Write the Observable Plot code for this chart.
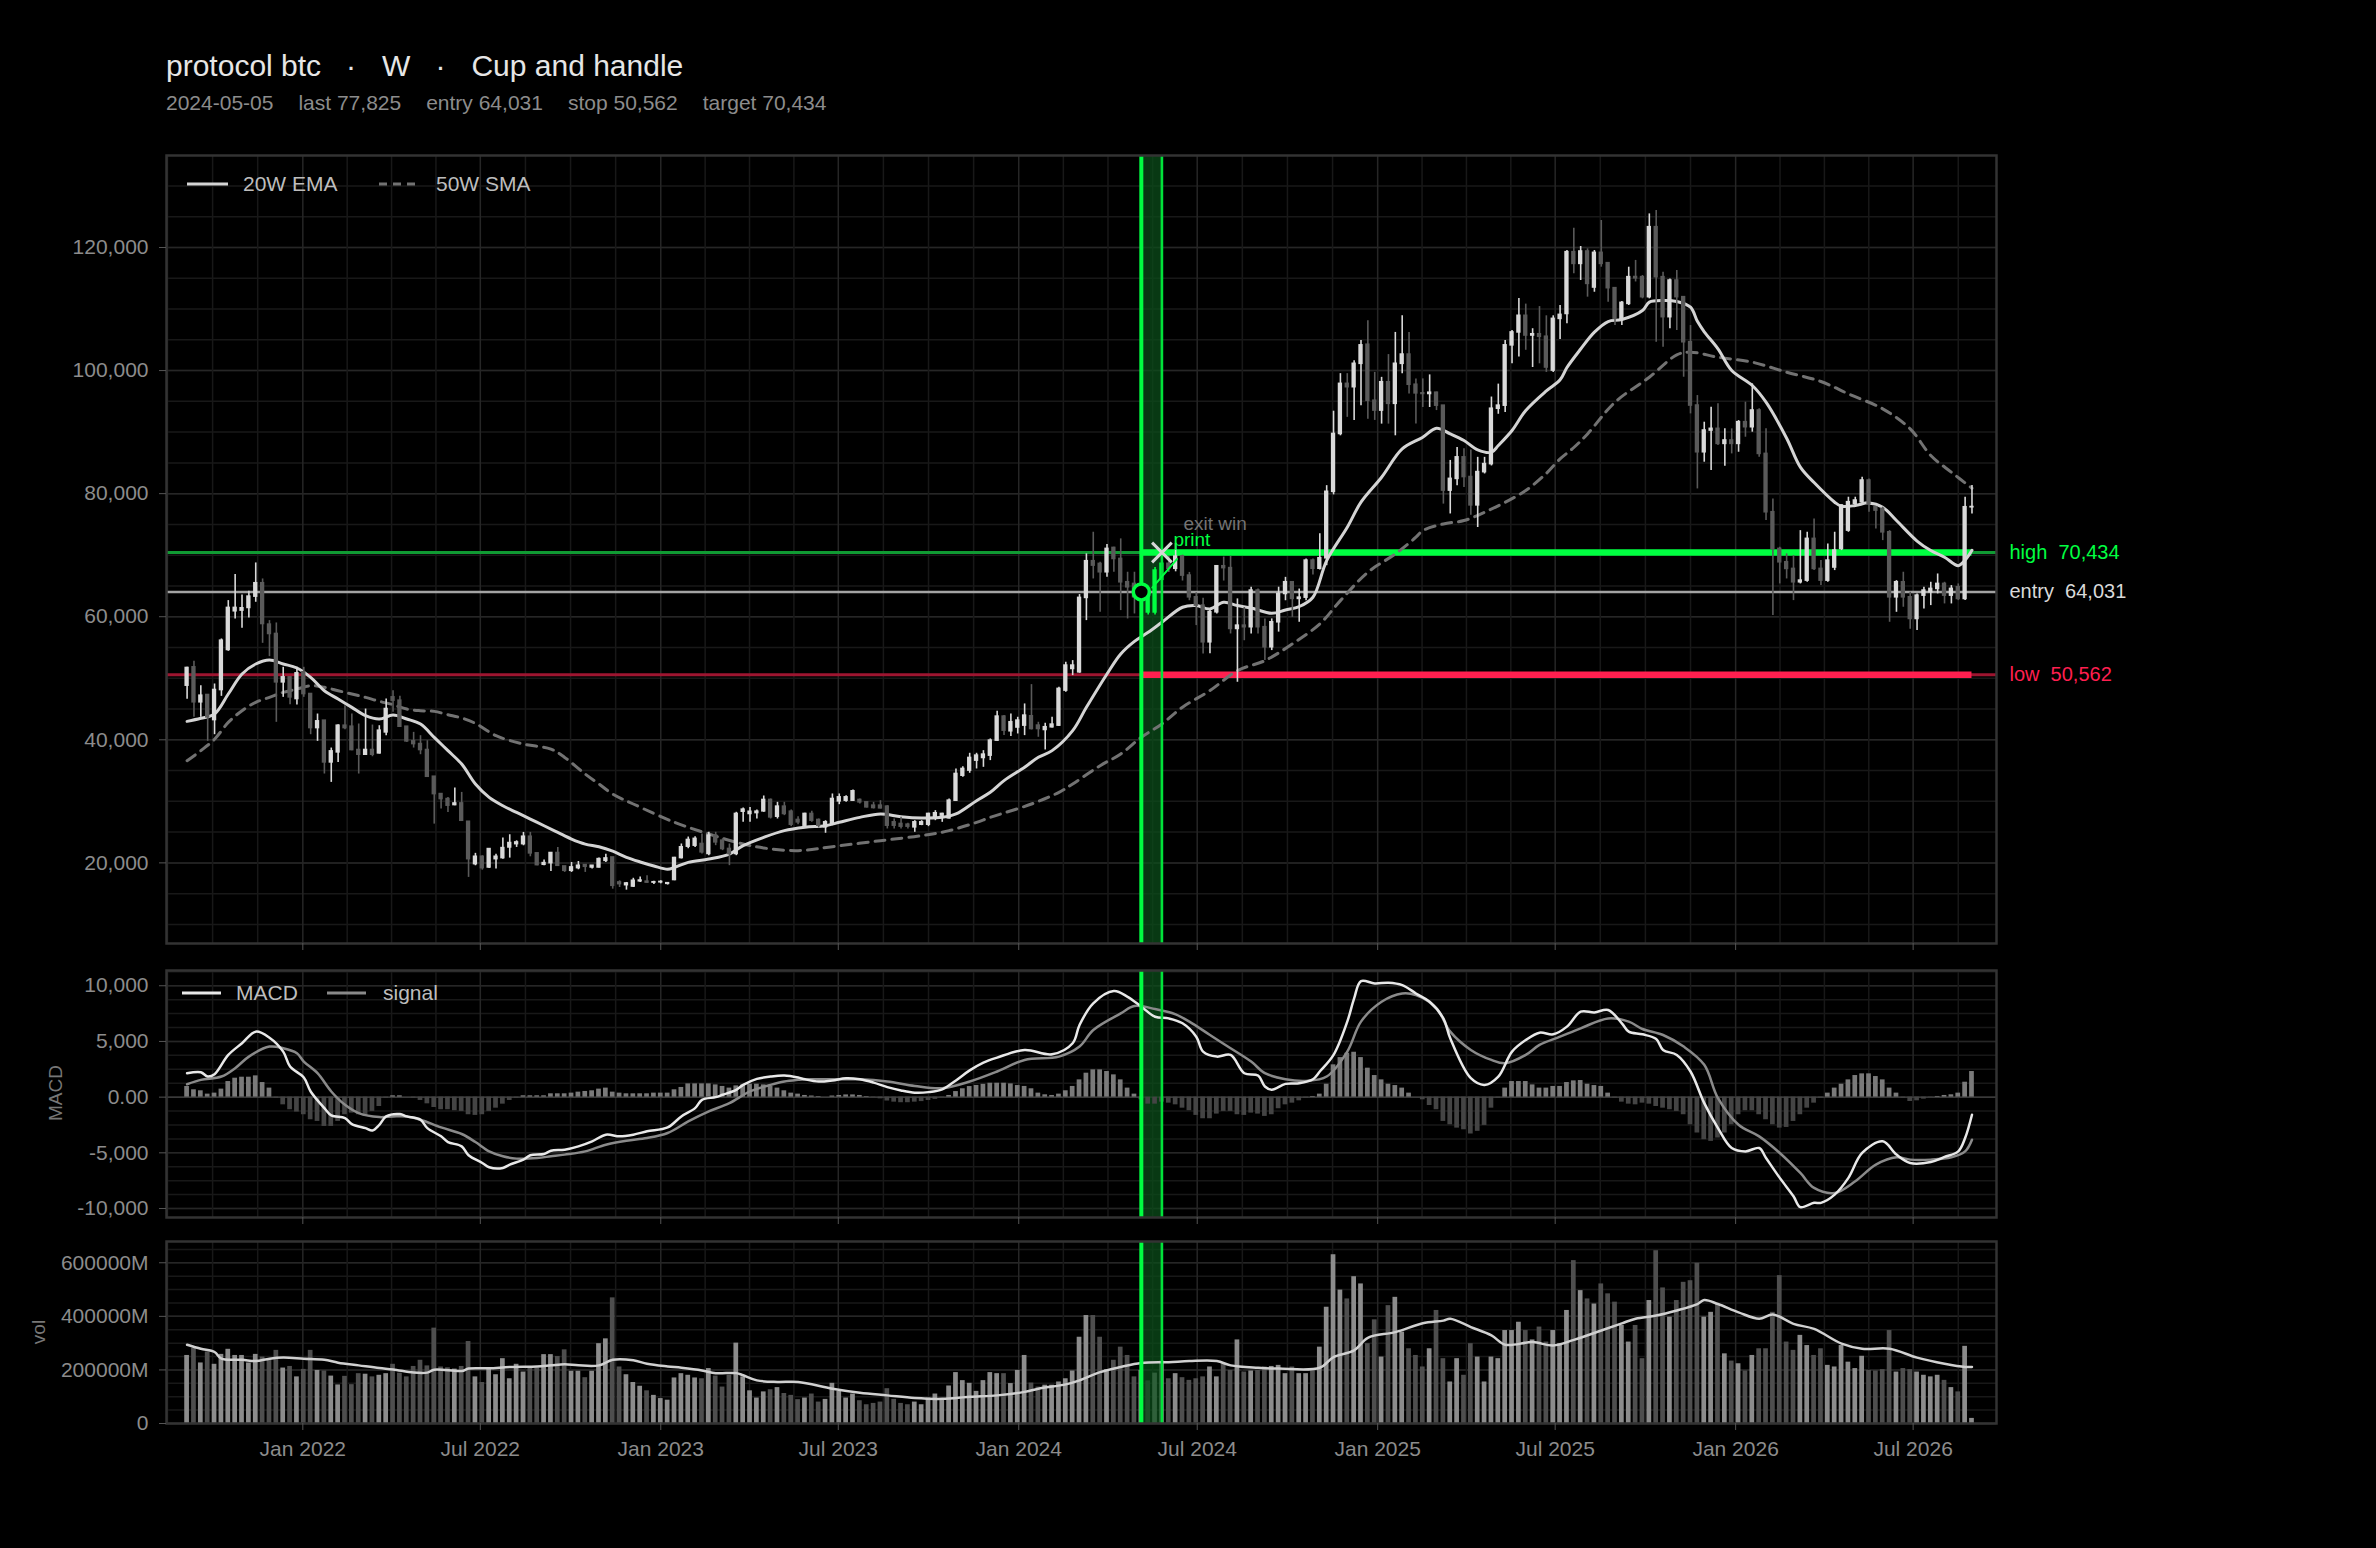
<!DOCTYPE html>
<html><head><meta charset="utf-8">
<script src="https://cdn.jsdelivr.net/npm/d3@7"></script>
<script src="https://cdn.jsdelivr.net/npm/@observablehq/plot@0.6"></script>
<style>
html,body{margin:0;padding:0;background:#000;}
body{width:2376px;height:1548px;position:relative;overflow:hidden;font-family:"Liberation Sans",Arial,Helvetica,sans-serif;}
.abs{position:absolute;}
#title{left:166px;top:48px;font-size:30px;color:#e6e6e6;white-space:pre;line-height:36px;}
#title .dot{margin:0 26px 0 25px;}
#sub{left:166px;top:91px;font-size:21px;color:#8c8c8c;white-space:pre;line-height:24px;}
#sub span{margin-right:25px;}
.leg{font-size:21px;color:#bdbdbd;line-height:24px;white-space:pre;}
.ytitle{font-size:19px;color:#777;transform:translate(-50%,-50%) rotate(-90deg);white-space:pre;}
</style></head><body>
<div id="title" class="abs">protocol btc<span class="dot">·</span>W<span class="dot">·</span>Cup and handle</div>
<div id="sub" class="abs"></div>
<div id="p1" class="abs" style="left:0;top:145px"></div>
<div id="p2" class="abs" style="left:0;top:960px"></div>
<div id="p3" class="abs" style="left:0;top:1231px"></div>
<svg class="abs" style="left:0;top:0" width="2376" height="1548" id="ov"></svg>
<div class="abs leg" style="left:243px;top:172px">20W EMA</div>
<div class="abs leg" style="left:436px;top:172px">50W SMA</div>
<div class="abs leg" style="left:236px;top:981px">MACD</div>
<div class="abs leg" style="left:383px;top:981px">signal</div>
<div class="abs ytitle" style="left:56px;top:1093px">MACD</div>
<div class="abs ytitle" style="left:39px;top:1332px">vol</div>
<script>
// ---------------- data ----------------
const firstWeek = "2021-09-05";           // week-ending date of first candle
const windowWeeks = ["2024-05-05", "2024-05-26"];
const entry = 64031, stop = 50562, target = 70434, last = 77825;
const subtitleParts = ["2024-05-05", "last 77,825", "entry 64,031", "stop 50,562", "target 70,434"];

const open = [
48800,51780,46100,47280,43210,48090,54600,60890,61000,61430,
63270,65440,58720,57200,49340,50150,46630,50970,47440,41910,
43110,36330,37960,42290,42130,38340,37580,38340,37800,41210,
46900,46360,42130,39750,39310,38340,34000,31180,30370,29400,
29660,26680,19800,20990,19260,20610,20780,22510,23050,23050,
24250,21550,19700,19960,21600,19420,18720,19150,19640,19260,
19260,20340,20880,16820,16380,16160,17010,16950,16800,16850,
16600,17220,20790,22640,22800,23070,21450,24430,23610,22260,
21450,28320,27950,28100,28380,30220,27510,29140,28320,26970,
26050,27950,26970,25800,26320,30000,30110,30110,30220,29840,
29300,29300,29140,26590,26320,26210,25780,26210,26210,27400,
27680,27240,30110,34170,35000,36620,37050,37430,39870,43770,
41390,42000,42310,43820,42310,41600,42040,42310,48000,51520,
50970,63060,69020,68580,67230,71180,69390,65600,65330,63170,
64031,60700,66000,68600,67800,69770,66690,63160,61810,55850,
60730,68200,67900,58020,58550,58300,64250,58300,55040,59100,
63700,65600,62900,63100,69120,67800,69500,80300,89700,97840,
97300,101100,104200,95100,93500,98100,94600,101100,102600,97700,
96300,96200,96400,94300,80500,82400,85900,82700,78100,83500,
84800,93800,94300,104100,106200,108900,105700,105900,105500,100000,
108400,109200,119240,117340,119350,113500,119130,117450,113390,108400,
110840,115200,115180,111930,123300,115180,108680,114630,111930,104610,
94320,86730,90260,90530,88090,88640,88090,91610,90800,93510,
86460,76980,71020,68850,67770,65600,65870,72650,67770,65870,
68000,71020,74000,78340,78610,82130,77800,77520,73720,63160,
65600,63160,59640,63430,63980,64520,65330,63430,64790,62890,
77790];
const high = [
51800,52750,48800,47300,49070,56390,62620,66850,63540,64140,
68740,66140,59370,58990,51780,50150,51780,51780,47440,44190,
43110,38660,42460,45550,44190,42570,45000,42400,42290,46630,
47980,47060,42130,41210,40670,39850,34000,31180,30640,32160,
31450,26680,21550,21150,22240,21420,24030,24570,23590,24950,
24950,21550,20450,21600,22510,19420,20070,20230,19640,19530,
20780,21420,20880,17090,16820,17500,17700,17900,17000,17100,
16800,20900,23070,24200,24250,24700,24970,24970,23880,23070,
28220,28920,29000,28600,30870,30380,29840,29840,28600,27510,
28060,28380,27130,26860,31200,31200,30920,31850,30380,29950,
29840,30110,29300,27130,27400,26430,26860,26860,28060,28490,
28060,30380,35260,35640,37810,37810,38240,40140,44630,43930,
44200,43660,45830,48970,42850,42690,43660,48540,52600,52870,
63600,70210,73730,68850,71720,71290,72650,67230,67230,64700,
64400,68000,71800,69800,71900,70000,67200,63900,63000,61000,
68300,69700,69800,62900,61500,64800,64500,59650,59650,64800,
66400,65600,64500,69400,69400,73500,81300,93400,99500,99500,
101600,104900,108100,99700,98900,102600,106200,108900,106200,98650,
98650,99300,96500,94300,85400,87500,87300,87100,85900,85900,
95700,97800,104900,106500,111700,110800,106800,110400,108900,108900,
110570,119510,123140,120160,119780,119510,124390,117450,113390,111220,
116800,117900,115450,125460,126020,115990,114900,116260,111930,107320,
95940,91610,94050,94590,90530,90530,91880,94860,97840,93780,
90530,79150,71290,70210,69940,73990,73730,75900,69120,71830,
73730,78170,79420,79420,82670,82400,77800,77800,73990,65870,
67230,63980,63710,64790,65600,66950,65600,65060,65330,79420,
81310];
const low = [
46600,43650,43650,39750,40830,47060,54380,59640,58120,59800,
62350,55680,53510,42840,46900,45700,45650,46900,40830,39750,
34440,33080,36330,41640,38230,34440,37580,37250,37690,40670,
44460,42020,39590,38660,37580,33890,26300,28740,28200,29300,
26850,17640,19530,18820,19100,19000,20610,20780,22510,22780,
20990,19530,19530,18610,19420,18450,18450,18880,18450,19000,
19150,20070,15730,16000,15570,16000,16800,16700,16500,16600,
16400,17100,20640,22300,22500,21450,21170,22800,21990,19550,
21170,26590,26600,27130,28220,27130,27130,27680,25890,26210,
25780,26590,25670,24810,26050,29460,29840,30000,29570,28920,
28760,28760,25510,25510,25510,25510,24970,26050,25890,26860,
26590,27130,30000,33910,34560,35260,35530,36620,39760,40680,
40520,40950,40680,41600,40410,38350,41920,42150,47720,50430,
50810,59370,66140,60730,66410,67230,61000,59640,60450,60400,
60300,60300,65500,67200,67300,65800,62600,58560,53950,54000,
60450,65800,57200,49350,56100,57200,57200,52870,54500,57500,
62600,59900,59100,62600,66800,67600,68300,79800,89400,92400,
91900,94300,92100,91900,91300,91300,89400,99500,96200,91300,
94000,94000,93500,78300,76700,81300,81000,76500,74500,83200,
84500,92900,93200,101100,102200,103300,100500,101100,99700,99700,
105050,107600,115720,114640,111930,112730,116800,111120,107320,107320,
110570,114400,111660,111660,104610,103800,106780,106510,98920,92960,
80770,85110,83750,87820,84450,86460,86730,89170,89990,85920,
75630,60180,65330,66140,62620,65330,65600,67500,65060,65600,
67500,70750,73720,77800,78340,76980,74270,72370,59100,60720,
61540,57980,57750,61270,61810,63710,62080,62080,62620,62620,
76710];
const close = [
51670,46100,47170,43650,48090,56110,61430,61430,61370,63270,
65440,58820,57200,49340,50150,46900,50800,47440,41910,43000,
36330,38120,42290,41910,38340,37580,38340,37580,41480,45000,
46360,42130,39750,39310,38340,34000,31180,30370,29300,29650,
26850,20610,20990,19150,22240,20990,22400,23220,23320,24250,
21550,19640,19960,21600,19530,18720,19260,19530,19370,19530,
20610,20720,16280,16550,16650,17090,17130,16800,16850,16900,
16700,20790,22530,23720,23900,21720,24430,23340,22260,21450,
27950,28650,28300,28320,30220,27400,29140,27950,26210,26590,
27950,26860,26050,26590,30380,30650,30650,31630,29840,29030,
28920,28870,26050,26050,25890,25890,26590,26590,27950,28060,
27950,30110,34450,35260,37050,37430,37590,39870,43770,41490,
42850,43120,43930,41760,41760,42040,42470,48270,52060,52060,
63060,69020,68310,67230,71020,69390,65600,64790,63170,64031,
60700,67500,68600,67800,69770,66690,63160,61810,55850,60730,
68200,67900,58020,58550,58300,64250,58300,55040,59100,63700,
65600,62900,63100,69120,67800,69500,80300,89700,97840,97300,
101100,104100,95100,93500,98100,94600,101100,102600,97700,96300,
96200,96400,94300,80500,82400,85900,82700,78100,83500,84800,
93800,94300,104100,106200,108900,105700,105900,105500,100500,108400,
109050,119240,117340,119350,114090,119130,117340,113390,108400,111000,
115180,115000,111930,123300,115180,108680,114630,111930,104610,94320,
86730,90260,90530,88090,88640,88090,91610,90800,93510,86460,
76980,71020,68850,67770,65600,65870,72650,67770,65870,69120,
70750,78070,78610,78880,82130,78340,77250,73720,63160,65600,
63160,59640,63430,64250,64520,65330,63430,64520,62890,77790,
77825];
// weekly volume, in millions
const volM = [
254000,281000,226000,267000,221000,258000,277000,254000,254000,226000,
258000,248000,242000,273000,207000,213000,174000,202000,273000,198000,
196000,177000,144000,176000,145000,186000,184000,174000,180000,186000,
221000,188000,174000,213000,236000,215000,356000,211000,208000,203000,
213000,306000,174000,153000,205000,182000,242000,167000,221000,192000,
211000,207000,257000,257000,250000,275000,195000,195000,171000,195000,
298000,316000,469000,211000,182000,153000,139000,122000,105000,93000,
87000,170000,186000,180000,170000,167000,205000,177000,136000,180000,
300000,174000,122000,95000,118000,126000,134000,112000,105000,89000,
95000,110000,80000,90000,150000,120000,95000,110000,85000,70000,
75000,80000,130000,90000,75000,70000,80000,70000,95000,110000,
90000,140000,190000,160000,150000,120000,160000,190000,186000,186000,
149000,198000,254000,151000,136000,143000,143000,155000,167000,196000,
322000,403000,403000,322000,201000,236000,285000,254000,174000,198000,
159000,188000,233000,167000,186000,171000,161000,167000,174000,211000,
174000,223000,198000,312000,192000,196000,198000,211000,213000,217000,
186000,211000,186000,186000,201000,285000,434000,630000,498000,465000,
548000,521000,298000,387000,248000,440000,471000,341000,279000,254000,
211000,279000,422000,242000,155000,242000,180000,298000,248000,155000,
248000,242000,347000,347000,378000,347000,312000,360000,304000,347000,
298000,422000,608000,496000,465000,446000,521000,484000,453000,366000,
304000,366000,242000,459000,645000,506000,397000,459000,527000,533000,
598000,397000,415000,446000,260000,233000,223000,196000,254000,279000,
279000,415000,552000,304000,273000,329000,291000,254000,279000,217000,
211000,291000,229000,205000,251000,198000,196000,201000,347000,192000,
205000,201000,192000,180000,174000,180000,161000,134000,118000,288000,
19000];
const macdHist = [
955,660,570,270,360,720,1400,1700,1790,1790,1910,1310,810,
-90,-690,-1130,-1340,-1580,-2030,-2180,-2630,-2630,-2180,-1580,-1430,-1580,-1730,-1280,-840,-90,
120,120,0,
-90,-300,-600,-930,-1130,-1130,-1220,-1280,-1580,-1640,-1580,-1280,-990,-630,-300,-90,
120,120,120,120,300,300,300,360,450,510,570,720,810,450,360,300,300,300,300,360,360,360,660,870,
1190,1190,1190,1190,1100,960,810,1010,1100,1160,1160,1100,960,810,570,360,270,
150,100,50,0,100,150,200,200,150,50,-50,-150,-350,-450,-500,-500,-450,-400,-300,-200,-50,150,500,750,950,1050,1150,1250,1250,
1250,1190,1040,960,750,360,210,150,270,570,
960,1550,2150,2450,2450,2300,2000,1550,810,270,
-240,-630,-630,-450,-540,-690,-990,-1220,-1640,-1940,
-1940,-1520,-1280,-1280,-1580,-1640,-1430,-1520,-1730,-1580,
-1040,-690,-540,-330,-90,60,270,1160,2900,3550,
3940,4030,3550,2600,1940,1550,1160,1040,810,360,
0,-240,-750,-1130,-2180,-2480,-2780,-2930,-3310,-3070,
-2540,-990,-90,810,1400,1400,1400,1100,810,810,
960,960,1310,1460,1490,1160,1040,960,360,-90,
-450,-630,-690,-540,-630,-840,-990,-1130,-1280,-1580,
-2480,-3220,-3820,-3970,-3670,-3220,-2480,-1580,-1220,-1220,
-1580,-2030,-2480,-2780,-2720,-2180,-1580,-990,-540,-90,
360,810,1160,1550,1940,2090,2090,1850,1550,810,
360,-90,-390,-330,-180,-30,60,150,210,360,
1340,2300];
// line series: [week index, value]
const ema20 = [[0,43000],[2,43500],[4,44200],[6,47440],[8,50700],[10,52320],[12,52970],[14,52320],[16,51670],[18,50150],[20,47980],[22,46630],[24,45270],[26,43920],[28,43380],[30,44030],[32,43380],[34,42560],[36,40400],[38,38230],[40,36060],[42,32810],[44,30640],[46,29280],[48,28200],[50,27120],[52,26030],[54,24950],[56,23870],[58,23050],[60,22620],[62,21900],[64,20900],[66,20150],[68,19500],[70,18970],[71,19270],[73,20090],[76,20630],[79,21440],[81,22800],[84,24150],[87,25240],[90,25780],[93,26050],[95,26590],[98,27400],[101,27950],[104,27510],[107,27300],[110,27400],[112,27950],[115,30110],[117,31470],[119,33370],[122,35540],[124,37160],[126,38240],[129,41490],[131,45280],[134,50700],[136,53950],[138,56000],[140,57470],[142,59100],[145,61540],[147,61810],[149,61270],[151,62350],[153,61810],[155,61430],[158,60560],[160,61100],[162,61650],[164,63170],[166,69120],[169,74540],[171,78610],[174,82670],[177,87270],[180,89170],[182,90630],[184,89710],[186,88630],[188,87110],[190,86730],[191,87820],[193,90260],[195,93510],[198,96700],[200,98500],[201,100500],[203,103500],[205,106240],[207,107970],[209,108300],[212,109760],[213,111120],[215,111390],[217,111230],[219,110300],[220,108000],[221,106300],[223,103530],[225,100010],[228,97570],[230,94860],[233,89000],[235,84300],[237,81800],[240,78610],[241,77950],[243,78070],[245,78500],[247,77800],[249,75630],[252,72300],[254,70750],[256,69670],[258,68300],[259,69200],[260,70800]];
const sma50 = [[0,36600],[2,38230],[4,40100],[6,42830],[8,44730],[10,46090],[12,46900],[14,47710],[16,48250],[18,48800],[20,48530],[22,47980],[24,47440],[26,46900],[28,46250],[30,45710],[32,45000],[34,44730],[36,44620],[38,44080],[40,43540],[42,42670],[45,40670],[49,39310],[53,38500],[55,37140],[58,34430],[60,32820],[62,31180],[65,29570],[71,26590],[76,24700],[80,23340],[84,22420],[89,21990],[94,22640],[101,23610],[107,24430],[111,25240],[115,26590],[117,27400],[123,29570],[127,31470],[129,32820],[133,35800],[136,37700],[139,40410],[142,42580],[145,45300],[149,48000],[153,51240],[157,52870],[161,55580],[165,58830],[168,62620],[172,67230],[176,70210],[179,72920],[180,74000],[183,75080],[186,75630],[189,76980],[192,78610],[195,80500],[198,83300],[200,85650],[202,87500],[204,89710],[208,94860],[213,98920],[217,102550],[219,102990],[223,102170],[228,101360],[233,99740],[238,98220],[242,96210],[247,93780],[251,90530],[254,86200],[257,83480],[260,80880]];
const macdLine = [[0,2150],[2,2240],[3,1850],[4,2060],[6,3790],[8,4840],[10,5880],[12,5340],[14,4090],[15,2750],[17,1760],[18,510],[20,-990],[21,-1640],[23,-1880],[24,-2420],[26,-2780],[27,-2990],[28,-2480],[29,-1730],[31,-1520],[32,-1730],[34,-2030],[35,-2780],[37,-3520],[38,-4030],[40,-4420],[41,-5220],[43,-5910],[44,-6300],[46,-6360],[47,-6060],[49,-5610],[50,-5220],[52,-5100],[53,-4810],[55,-4720],[57,-4420],[59,-3970],[61,-3370],[63,-3520],[65,-3370],[67,-3070],[70,-2720],[72,-1730],[74,-990],[75,-240],[77,0],[78,210],[80,660],[81,1100],[83,1640],[85,1850],[87,1940],[89,1760],[90,1600],[92,1400],[94,1500],[96,1700],[98,1600],[100,1300],[102,900],[104,600],[106,400],[108,450],[110,700],[112,1500],[114,2400],[116,3100],[118,3550],[122,4240],[126,3850],[129,4840],[130,6480],[132,8420],[135,9520],[137,9010],[139,8120],[141,7220],[143,7070],[145,6630],[147,5430],[148,4090],[150,3640],[152,3790],[154,2150],[156,1940],[157,960],[158,660],[160,1190],[162,1250],[164,1610],[165,2300],[167,3790],[169,6780],[170,8870],[171,10420],[173,10210],[175,10270],[177,10060],[179,9310],[181,8570],[183,7070],[184,5280],[187,1700],[189,1100],[191,1850],[193,4090],[195,5130],[197,5790],[199,5640],[201,6330],[203,7670],[205,7610],[207,7820],[209,6630],[210,5880],[212,5640],[214,5220],[215,4240],[217,3790],[219,2300],[221,-540],[223,-2780],[225,-4570],[227,-4870],[229,-4570],[230,-5460],[232,-7250],[234,-8900],[235,-9880],[237,-9490],[238,-9490],[240,-8750],[242,-7250],[244,-5010],[247,-3970],[249,-5160],[251,-5910],[254,-5820],[256,-5370],[258,-4870],[259,-3670],[260,-1580]];
const signalLine = [[0,1160],[2,1550],[5,1850],[7,2600],[9,3640],[12,4540],[14,4390],[16,3940],[17,3190],[19,2150],[21,510],[23,-690],[25,-1430],[28,-1790],[30,-1730],[32,-1730],[34,-2030],[37,-2720],[40,-3310],[42,-4030],[44,-4870],[46,-5310],[48,-5520],[51,-5460],[53,-5310],[55,-5160],[58,-4870],[61,-4270],[64,-3910],[67,-3670],[70,-3220],[73,-2180],[76,-1280],[79,-540],[82,510],[85,1100],[87,1400],[89,1550],[90,1600],[94,1600],[98,1600],[102,1400],[106,1000],[110,800],[114,1400],[118,2300],[122,3340],[127,3640],[130,4540],[132,6030],[136,7520],[138,8180],[141,7910],[144,7430],[146,6780],[149,5580],[152,4390],[155,3190],[157,2150],[160,1610],[163,1460],[166,1850],[169,4090],[171,6780],[174,8570],[177,9310],[179,9160],[182,7970],[184,5880],[187,4240],[190,3340],[192,3040],[195,3790],[197,4690],[200,5430],[203,6180],[207,7070],[210,6780],[212,6120],[215,5580],[218,4540],[221,2900],[223,-90],[226,-2480],[229,-3520],[232,-5010],[235,-6810],[237,-8150],[240,-8600],[243,-7550],[246,-6060],[249,-5400],[251,-5610],[254,-5610],[257,-5400],[259,-4870],[260,-3820]];
const volAvg = [[0,294000],[2,279000],[4,267000],[5,242000],[8,238000],[10,233000],[12,242000],[14,246000],[17,242000],[20,238000],[22,227000],[25,217000],[28,207000],[30,202000],[33,190000],[35,190000],[36,201000],[40,196000],[41,205000],[44,206000],[47,211000],[51,213000],[53,217000],[55,221000],[57,217000],[60,217000],[62,238000],[65,236000],[67,223000],[70,213000],[72,208000],[75,198000],[77,188000],[80,188000],[81,180000],[83,161000],[86,155000],[89,155000],[94,130000],[98,115000],[102,105000],[106,95000],[110,92000],[114,100000],[118,105000],[122,118000],[124,130000],[128,146000],[130,161000],[133,192000],[136,211000],[139,226000],[143,229000],[146,233000],[150,233000],[152,217000],[156,208000],[159,205000],[165,208000],[167,248000],[170,273000],[172,320000],[176,341000],[180,374000],[183,384000],[184,391000],[187,360000],[190,329000],[192,294000],[196,304000],[199,291000],[202,312000],[206,347000],[209,374000],[211,391000],[214,403000],[217,422000],[220,446000],[221,461000],[223,446000],[226,415000],[229,391000],[231,407000],[234,372000],[237,353000],[241,298000],[244,279000],[248,279000],[252,246000],[256,223000],[259,211000],[260,211000]];
// leader line of the "print" callout: [week index, price]
const callout = [[140.6, 64736], [144.2, 69370]];
const priceTicks = [20000, 40000, 60000, 80000, 100000, 120000];
const macdTicks = [-10000, -5000, 0, 5000, 10000];
const volTicks = [0, 200000, 400000, 600000];
const xTickLabels = ["2022-01-01","2022-07-01","2023-01-01","2023-07-01","2024-01-01","2024-07-01","2025-01-01","2025-07-01","2026-01-01","2026-07-01"];

// ---------------- helpers ----------------
const DAY = 864e5;
const t0 = Date.parse(firstWeek + "T00:00:00Z");
const wk = k => new Date(t0 + k * 7 * DAY);
const N = close.length;
const wS = Math.round((Date.parse(windowWeeks[0] + "T00:00:00Z") - t0) / (7 * DAY));
const wE = Math.round((Date.parse(windowWeeks[1] + "T00:00:00Z") - t0) / (7 * DAY));
const GREEN = "#00ff41", RED = "#ff1f4f";
const UPC = "#d9d9d9", DNC = "#5a5a5a";
const MINOR = "#181818", MAJOR = "#262626";
const W = 2376;
const xDomain = [new Date(Date.UTC(2021, 7, 15)), new Date(Date.UTC(2026, 8, 24))];
const font = '"Liberation Sans", Arial, Helvetica, sans-serif';
const style = {background: "transparent", color: "#8c8c8c", fontFamily: font, overflow: "visible"};

const candles = d3.range(N).map(k => ({k, d: wk(k), o: open[k], h: high[k], l: low[k], c: close[k],
  up: close[k] >= open[k], win: k >= wS && k <= wE, v: volM[k], hist: macdHist[k]}));
const pts = arr => arr.map(([k, v]) => ({d: wk(k), v}));

// x grid: majors at half-years, minors quarter-way between
const xMajor = xTickLabels.map(s => new Date(s + "T00:00:00Z"));
const bounds = [new Date(Date.UTC(2021, 6, 1)), ...xMajor, new Date(Date.UTC(2027, 0, 1))];
const xMinor = [];
for (let i = 0; i + 1 < bounds.length; i++) {
  for (let j = 1; j < 4; j++) xMinor.push(new Date(+bounds[i] + (bounds[i + 1] - bounds[i]) * j / 4));
}
const inX = d => d >= xDomain[0] && d <= xDomain[1];
const xMinorIn = xMinor.filter(inX), xMajorIn = xMajor.filter(inX);
const stepGrid = (a, b, s) => d3.range(a, b + s / 2, s);

const band = (y0, y1) => [
  Plot.rect([{a: wk(wS), b: wk(wE), lo: y0, hi: y1}],
    {x1: d => d.a, x2: d => d.b, y1: d => d.lo, y2: d => d.hi, fill: "#0b4f1b", fillOpacity: 0.72})
];
const bandEdges = [
  Plot.ruleX([wk(wS)], {stroke: GREEN, strokeWidth: 4}),
  Plot.ruleX([wk(wE)], {stroke: "#00e23a", strokeWidth: 2.6})
];
const gridX = [
  Plot.ruleX(xMinorIn, {stroke: MINOR, strokeWidth: 1.5}),
  Plot.ruleX(xMajorIn, {stroke: MAJOR, strokeWidth: 1.5})
];
const half = (d, days) => new Date(+d + days * DAY);
const axisOpts = {tickSize: 7, tickPadding: 11, fontSize: 21, fill: "#8c8c8c", stroke: "#555"};

// ---------------- price panel ----------------
const levels = [
  {name: "high", v: target, color: GREEN},
  {name: "entry", v: entry, color: "#d9d9d9"},
  {name: "low", v: stop, color: RED}
];
const fmt = d3.format(",");
const exitPt = [{d: wk(wE), v: target}];
const pDom = [6900, 134950];
const p1 = Plot.plot({
  width: W, height: 810, marginTop: 10, marginBottom: 12, marginLeft: 166, marginRight: 380,
  x: {type: "utc", domain: xDomain, axis: null},
  y: {domain: pDom, axis: null},
  style,
  marks: [
    Plot.ruleY(stepGrid(10000, 130000, 5000), {stroke: MINOR, strokeWidth: 1.5}),
    Plot.ruleY(priceTicks, {stroke: MAJOR, strokeWidth: 1.5}),
    ...gridX,
    ...band(pDom[0], pDom[1]),
    Plot.ruleY([target], {stroke: "#109a33", strokeWidth: 3}),
    Plot.ruleY([entry], {stroke: "#a3a3a3", strokeWidth: 2.5}),
    Plot.ruleY([stop], {stroke: "#9e1530", strokeWidth: 3}),
    Plot.ruleY([{v: target, a: wk(wS), b: wk(N - 1)}], {y: "v", x1: "a", x2: "b", stroke: GREEN, strokeWidth: 6.5}),
    Plot.ruleY([{v: stop, a: wk(wS), b: wk(N - 1)}], {y: "v", x1: "a", x2: "b", stroke: RED, strokeWidth: 6.5}),
    Plot.line(pts(sma50), {x: "d", y: "v", stroke: "#727272", strokeWidth: 3, strokeDasharray: "10,7", curve: "catmull-rom"}),
    Plot.line(pts(ema20), {x: "d", y: "v", stroke: "#d4d4d4", strokeWidth: 3, curve: "catmull-rom"}),
    Plot.ruleX(candles, {x: "d", y1: "l", y2: "h", strokeWidth: 1.6,
      stroke: d => d.win ? GREEN : d.up ? UPC : DNC}),
    Plot.rect(candles, {x1: d => half(d.d, -2.2), x2: d => half(d.d, 2.2),
      y1: d => Math.min(d.o, d.c), y2: d => Math.max(d.o, d.c), insetTop: -0.8, insetBottom: -0.8,
      fill: d => d.win ? GREEN : d.up ? UPC : DNC}),
    ...bandEdges,
    Plot.line(pts(callout), {x: "d", y: "v", stroke: GREEN, strokeWidth: 2}),
    Plot.dot([{d: wk(wS), v: entry}], {x: "d", y: "v", r: 8, stroke: GREEN, strokeWidth: 3.5, fill: "#000"}),
    Plot.dot(exitPt, {x: "d", y: "v", symbol: "times", r: 9, stroke: "#d6d6d6", strokeWidth: 3}),
    Plot.text(exitPt, {x: "d", y: "v", text: () => "exit win", dx: 21.5, dy: -29, textAnchor: "start", fill: "#737373", fontSize: 19}),
    Plot.text(exitPt, {x: "d", y: "v", text: () => "print", dx: 11.5, dy: -12.5, textAnchor: "start", fill: GREEN, fontSize: 19}),
    Plot.text(levels, {y: "v", text: d => d.name + "\u00a0\u00a0" + fmt(d.v), fill: "color", frameAnchor: "right", dx: 13, textAnchor: "start", fontSize: 20}),
    Plot.frame({stroke: "#333", strokeWidth: 2.5}),
    Plot.axisY({...axisOpts, ticks: priceTicks, tickFormat: fmt, label: null}),
    Plot.axisX({...axisOpts, ticks: xMajorIn, tickFormat: () => "", label: null})
  ]
});
document.getElementById("p1").append(p1);

// ---------------- MACD panel ----------------
const macdFmt = v => v === 0 ? "0.00" : (v < 0 ? "-" : "") + fmt(Math.abs(v));
const mDom = [-10806, 11370];
const p2 = Plot.plot({
  width: W, height: 269, marginTop: 10, marginBottom: 12, marginLeft: 166, marginRight: 380,
  x: {type: "utc", domain: xDomain, axis: null},
  y: {domain: mDom, axis: null},
  style,
  marks: [
    Plot.ruleY(stepGrid(-10000, 11250, 1250), {stroke: MINOR, strokeWidth: 1.5}),
    Plot.ruleY(macdTicks, {stroke: MAJOR, strokeWidth: 1.5}),
    ...gridX,
    Plot.ruleY([0], {stroke: "#3a3a3a", strokeWidth: 1.5}),
    ...band(mDom[0], mDom[1]),
    Plot.rect(candles, {x1: d => half(d.d, -2.4), x2: d => half(d.d, 2.4), y1: () => 0, y2: "hist",
      fill: d => d.hist >= 0 ? "#7a7a7a" : "#444444"}),
    Plot.line(pts(signalLine), {x: "d", y: "v", stroke: "#8a8a8a", strokeWidth: 2.5, curve: "catmull-rom"}),
    Plot.line(pts(macdLine), {x: "d", y: "v", stroke: "#e8e8e8", strokeWidth: 2.5, curve: "catmull-rom"}),
    ...bandEdges,
    Plot.frame({stroke: "#333", strokeWidth: 2.5}),
    Plot.axisY({...axisOpts, ticks: macdTicks, tickFormat: macdFmt, label: null}),
    Plot.axisX({...axisOpts, ticks: xMajorIn, tickFormat: () => "", label: null})
  ]
});
document.getElementById("p2").append(p2);

// ---------------- volume panel ----------------
const vDom = [0, 679400];
const p3 = Plot.plot({
  width: W, height: 242, marginTop: 10, marginBottom: 50, marginLeft: 166, marginRight: 380,
  x: {type: "utc", domain: xDomain, axis: null},
  y: {domain: vDom, axis: null},
  style,
  marks: [
    Plot.ruleY(stepGrid(0, 650000, 50000), {stroke: MINOR, strokeWidth: 1.5}),
    Plot.ruleY(volTicks, {stroke: MAJOR, strokeWidth: 1.5}),
    ...gridX,
    Plot.rect(candles, {x1: d => half(d.d, -2.4), x2: d => half(d.d, 2.4), y1: () => 0, y2: "v",
      fill: d => d.up ? "#8c8c8c" : "#4e4e4e"}),
    ...band(vDom[0], vDom[1]),
    Plot.line(pts(volAvg), {x: "d", y: "v", stroke: "#d0d0d0", strokeWidth: 2.5, curve: "catmull-rom"}),
    ...bandEdges,
    Plot.frame({stroke: "#333", strokeWidth: 2.5}),
    Plot.axisY({...axisOpts, ticks: volTicks, tickFormat: v => v === 0 ? "0" : v + "M", label: null}),
    Plot.axisX({...axisOpts, ticks: xMajorIn, tickFormat: d3.utcFormat("%b %Y"), label: null})
  ]
});
document.getElementById("p3").append(p3);

// ---------------- subtitle & legends ----------------
const sub = document.getElementById("sub");
subtitleParts.forEach(t => { const s = document.createElement("span"); s.textContent = t; sub.append(s); });
const ov = d3.select("#ov");
ov.append("line").attr("x1", 187).attr("x2", 228).attr("y1", 184).attr("y2", 184).attr("stroke", "#d4d4d4").attr("stroke-width", 3);
ov.append("line").attr("x1", 379).attr("x2", 415).attr("y1", 184).attr("y2", 184).attr("stroke", "#727272").attr("stroke-width", 3).attr("stroke-dasharray", "8,6");
ov.append("line").attr("x1", 182).attr("x2", 221).attr("y1", 993).attr("y2", 993).attr("stroke", "#e8e8e8").attr("stroke-width", 3);
ov.append("line").attr("x1", 327).attr("x2", 366).attr("y1", 993).attr("y2", 993).attr("stroke", "#8a8a8a").attr("stroke-width", 3);
</script>
</body></html>
